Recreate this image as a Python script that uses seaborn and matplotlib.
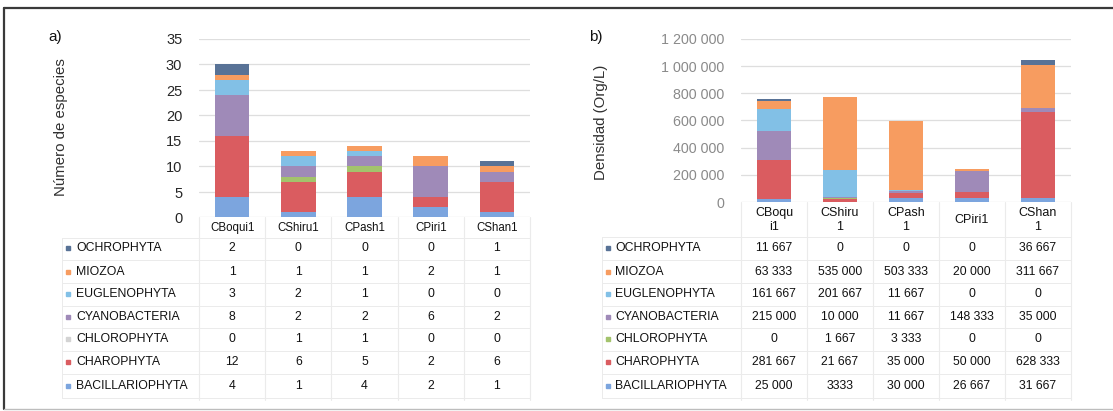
import numpy as np
import matplotlib
matplotlib.use("Agg")
import matplotlib.pyplot as plt
import matplotlib.transforms as mtransforms
from matplotlib.lines import Line2D
from matplotlib.ticker import FuncFormatter, MultipleLocator
import seaborn as sns

# ---------------- data ----------------
sites_a = ["CBoqui1", "CShiru1", "CPash1", "CPiri1", "CShan1"]
sites_b = ["CBoqu\ni1", "CShiru\n1", "CPash\n1", "CPiri1", "CShan\n1"]
groups = ["OCHROPHYTA", "MIOZOA", "EUGLENOPHYTA", "CYANOBACTERIA",
          "CHLOROPHYTA", "CHAROPHYTA", "BACILLARIOPHYTA"]

ochrophyta_sp = [2, 0, 0, 0, 1]
miozoa_sp = [1, 1, 1, 2, 1]
euglenophyta_sp = [3, 2, 1, 0, 0]
cyanobacteria_sp = [8, 2, 2, 6, 2]
chlorophyta_sp = [0, 1, 1, 0, 0]
charophyta_sp = [12, 6, 5, 2, 6]
bacillariophyta_sp = [4, 1, 4, 2, 1]
species = [ochrophyta_sp, miozoa_sp, euglenophyta_sp, cyanobacteria_sp,
           chlorophyta_sp, charophyta_sp, bacillariophyta_sp]

# density table as printed (values parsed from these strings)
ochrophyta_den = ["11 667", "0", "0", "0", "36 667"]
miozoa_den = ["63 333", "535 000", "503 333", "20 000", "311 667"]
euglenophyta_den = ["161 667", "201 667", "11 667", "0", "0"]
cyanobacteria_den = ["215 000", "10 000", "11 667", "148 333", "35 000"]
chlorophyta_den = ["0", "1 667", "3 333", "0", "0"]
charophyta_den = ["281 667", "21 667", "35 000", "50 000", "628 333"]
bacillariophyta_den = ["25 000", "3333", "30 000", "26 667", "31 667"]
density_txt = [ochrophyta_den, miozoa_den, euglenophyta_den, cyanobacteria_den,
               chlorophyta_den, charophyta_den, bacillariophyta_den]
density = [[int(s.replace(" ", "")) for s in row] for row in density_txt]

colors = ["#587296", "#f79c60", "#82c0e6", "#9f8ab8",
          "#a3c36c", "#da5c60", "#7ca5de"]

# ---------------- figure ----------------
sns.set_theme(style="white")
plt.rcParams["font.family"] = ["Liberation Sans", "DejaVu Sans"]

W, H = 1113, 411
fig = plt.figure(figsize=(W / 100, H / 100), dpi=100)

def fy(py):
    return 1 - py / H

def fx(px):
    return px / W

ax_a = fig.add_axes([fx(199), fy(217.5), fx(530) - fx(199), fy(39) - fy(217.5)])
ax_b = fig.add_axes([fx(741), fy(202), fx(1071) - fx(741), fy(39) - fy(202)])

def stack(ax, cats, table, width):
    bottom = np.zeros(len(cats))
    for vals, col in zip(reversed(table), reversed(colors)):
        vals = np.array(vals, dtype=float)
        sns.barplot(x=cats, y=vals, bottom=bottom, color=col, width=width,
                    saturation=1, errorbar=None, edgecolor="none", ax=ax)
        bottom += vals

stack(ax_a, sites_a, species, 0.52)
stack(ax_b, sites_b, density, 0.52)

grid_c = "#dedede"
for ax in (ax_a, ax_b):
    ax.set_xlim(-0.5, 4.5)
    for s in ax.spines.values():
        s.set_visible(False)
    ax.set_xlabel("")
    ax.set_ylabel("")
    ax.tick_params(axis="x", labelbottom=False, length=0)
    ax.tick_params(axis="y", length=0, pad=12)
    ax.yaxis.grid(True, color=grid_c, linewidth=0.9)
    ax.set_axisbelow(True)
    ax.set_facecolor("none")

ax_a.set_ylim(0, 35)
ax_a.yaxis.set_major_locator(MultipleLocator(5))
ax_a.tick_params(axis="y", labelsize=10.5, labelcolor="#262626")

ax_b.set_ylim(0, 1200000)
ax_b.yaxis.set_major_locator(MultipleLocator(200000))
ax_b.yaxis.set_major_formatter(FuncFormatter(lambda v, p: f"{int(v):,}".replace(",", " ")))
ax_b.tick_params(axis="y", labelsize=10.3, labelcolor="#8a8a8a")

fig.text(fx(55), fy(37), "a)", fontsize=11, ha="center", va="center", color="#111111")
fig.text(fx(596), fy(37), "b)", fontsize=11, ha="center", va="center", color="#111111")
fig.text(fx(61), fy(127), "Número de especies", rotation=90, fontsize=10.8,
         ha="center", va="center", color="#303030")
fig.text(fx(601), fy(122), "Densidad (Org/L)", rotation=90, fontsize=10.8,
         ha="center", va="center", color="#303030")

row_y = [248, 272, 294, 317, 339, 362, 386]
line_c = "#ebebeb"

def table(ax, cats, cat_y, texts, lab_px, mark_px, top_px, head_px, lab_fs,
          row_left_px, mark_cols):
    tr = mtransforms.blended_transform_factory(ax.transData, fig.transFigure)
    for i, c in enumerate(cats):
        ax.text(i, fy(cat_y), c, transform=tr, ha="center", va="center",
                fontsize=lab_fs, color="#111111", linespacing=1.3)
    for r, (g, col) in enumerate(zip(groups, mark_cols)):
        y = fy(row_y[r])
        fig.text(fx(lab_px), y, g, fontsize=8.8, ha="left", va="center", color="#111111")
        fig.patches.append(plt.Rectangle((fx(mark_px) - 2.3 / W, y - 2.3 / H), 4.6 / W, 4.6 / H,
                                         transform=fig.transFigure, color=col, figure=fig))
        for i in range(len(cats)):
            ax.text(i, y, texts[r][i], transform=tr, ha="center", va="center",
                    fontsize=8.8, color="#111111")
    # grid lines
    for b in np.arange(-0.5, len(cats) + 0.5, 1.0):
        ax.add_line(Line2D([b, b], [fy(top_px), fy(400)], transform=tr,
                           color=line_c, lw=0.8, clip_on=False))
    x0 = fx(row_left_px)
    for yb in [head_px] + [(row_y[k] + row_y[k + 1]) / 2 for k in range(6)] + [398]:
        fig.add_artist(Line2D([x0, ax.get_position().x1], [fy(yb), fy(yb)],
                              color=line_c, lw=0.7))
    fig.add_artist(Line2D([x0, x0], [fy(head_px), fy(398)], color=line_c, lw=0.7))

species_txt = [[str(v) for v in row] for row in species]
marks_a = colors[:4] + ["#d3d3d3"] + colors[5:]
table(ax_a, sites_a, 228, species_txt, 76, 68, 217.5, 238, 8.3, 62, marks_a)
table(ax_b, sites_b, 220, density_txt, 615, 608, 202, 237, 9, 602, colors)

# outer frame
fig.add_artist(Line2D([fx(4), 1], [fy(8), fy(8)], color="#3a3a3a", lw=1.6))
fig.add_artist(Line2D([fx(4), fx(4)], [fy(8), fy(409)], color="#3a3a3a", lw=1.6))
fig.add_artist(Line2D([fx(4), 1], [fy(409), fy(409)], color="#bdbdbd", lw=1.0))

fig.savefig("out.png", dpi=100)
